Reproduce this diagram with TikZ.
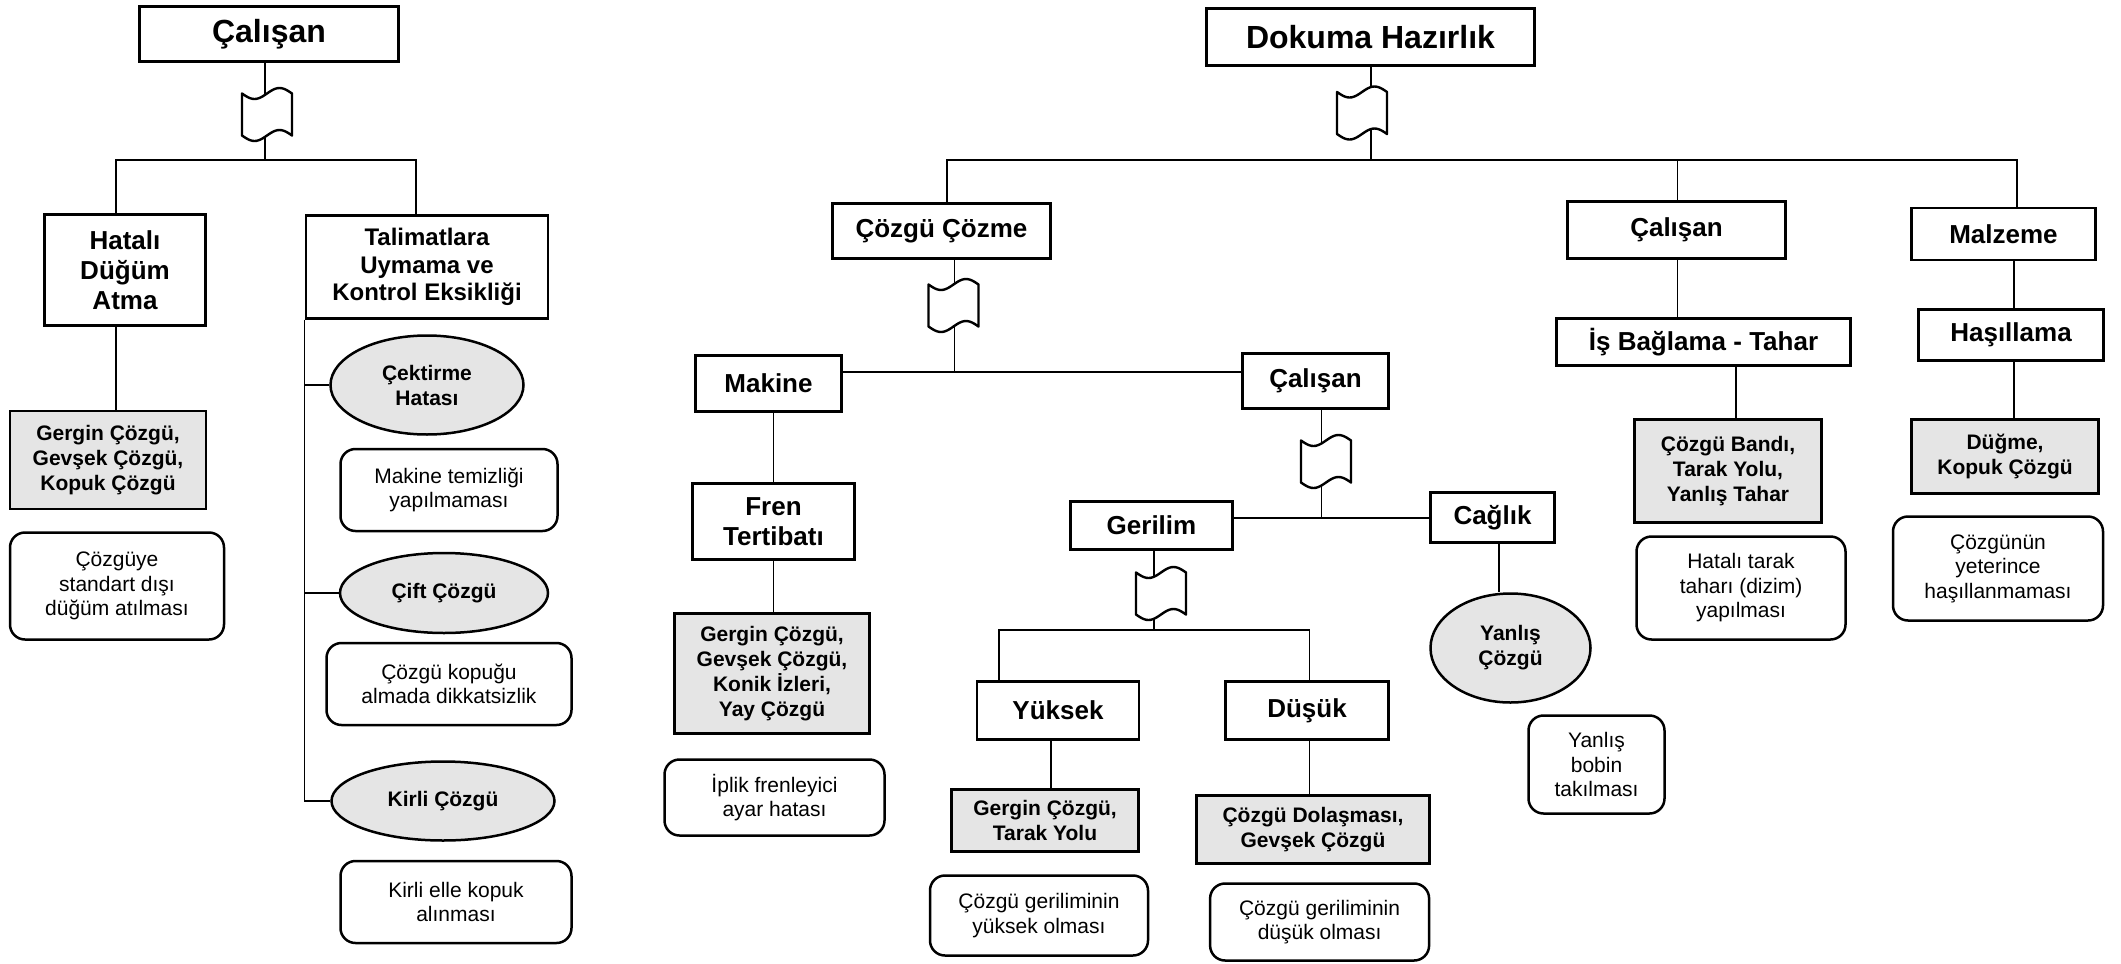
\documentclass[tikz,border=0pt]{standalone}
\usepackage{fontspec}
\setmainfont{Liberation Sans}
\usetikzlibrary{shapes.geometric}
\begin{document}
\begin{tikzpicture}[x=1pt,y=-1pt,
  every node/.style={inner sep=2pt, align=center},
  sz/.style 2 args={minimum width={#1pt-3pt}, minimum height={#2pt-3pt}},
  titlebox/.style={draw, line width=2.7pt, fill=white, font=\fontsize{32}{36}\selectfont\bfseries},
  lvlbox/.style={draw, line width=2.7pt, fill=white, font=\fontsize{26}{30}\selectfont\bfseries},
  lvlsmall/.style={lvlbox, font=\fontsize{24}{27.3}\selectfont\bfseries},
  defect/.style={draw, line width=2.7pt, fill=gray!20, font=\fontsize{21}{25}\selectfont\bfseries},
  cause/.style={draw, ellipse, line width=2.5pt, fill=gray!20, font=\fontsize{21}{25}\selectfont\bfseries},
  note/.style={draw, rounded corners=15pt, line width=2.5pt, fill=white, font=\fontsize{21}{24.5}\selectfont},
  link/.style={line width=1.4pt},
  tape/.pic={
    \draw[line width=2.4pt, fill=white, line join=round]
      plot[domain=-25:25, samples=25, smooth] (\x, {-21.5-5.5*sin(180*\x/25)})
      -- plot[domain=25:-25, samples=25, smooth] (\x, {20.5-5.5*sin(180*\x/25)})
      -- cycle;
  },
]
\useasboundingbox (0,0) rectangle (2121,964);

% ---------- left tree: Çalışan ----------
\node[titlebox, sz={262}{58}] (cL) at (269,34) {Çalışan};
\node[lvlbox, sz={164}{114}] (hat) at (125,270) {Hatalı\\Düğüm\\Atma};
\node[lvlsmall, sz={245}{106}] (tal) at (427,267) {Talimatlara\\Uymama ve\\Kontrol Eksikliği};
\node[defect, sz={199}{101}] (g1) at (108,460) {Gergin Çözgü,\\Gevşek Çözgü,\\Kopuk Çözgü};
\node[note, sz={217}{110}] (n1) at (117,586) {Çözgüye\\standart dışı\\düğüm atılması};
\node[cause, sz={196}{102}] (e1) at (427,385) {Çektirme\\Hatası};
\node[note, sz={220}{85}] (n2) at (449,490) {Makine temizliği\\yapılmaması};
\node[cause, sz={211}{83}] (e2) at (444,593) {Çift Çözgü};
\node[note, sz={248}{85}] (n3) at (449,684) {Çözgü kopuğu\\almada dikkatsizlik};
\node[cause, sz={226}{82}] (e3) at (443,801) {Kirli Çözgü};
\node[note, sz={234}{85}] (n4) at (456,902) {Kirli elle kopuk\\alınması};

\coordinate (fL) at (267,115);
\coordinate (jL) at (265,160);
\coordinate (bL1) at (116,160);
\coordinate (bL2) at (416,160);
\draw[link] (cL.south -| jL) -- (jL);
\draw[link] (hat.north -| bL1) -- (bL1) -- (bL2) -- (tal.north -| bL2);
\draw[link] (hat.south -| bL1) -- (g1.north -| bL1);
\draw[link] (tal.south west) |- (e1.west);
\draw[link] (tal.south west) |- (e2.west);
\draw[link] (tal.south west) |- (e3.west);

% ---------- middle tree: Dokuma Hazırlık ----------
\node[titlebox, sz={331}{60}] (dh) at (1370.5,37) {Dokuma Hazırlık};
\node[lvlbox, sz={221}{58}] (cc) at (941.5,231) {Çözgü Çözme};
\node[lvlbox, sz={149}{59}] (mak) at (768.5,383.5) {Makine};
\node[lvlbox, sz={149}{58}] (cm) at (1315.5,381) {Çalışan};
\node[lvlbox, sz={165}{79}] (fren) at (773.5,521.5) {Fren\\Tertibatı};
\node[defect, sz={198}{123}] (g2) at (772,673.5) {Gergin Çözgü,\\Gevşek Çözgü,\\Konik İzleri,\\Yay Çözgü};
\node[note, sz={223}{79}] (n5) at (774.5,797.5) {İplik frenleyici\\ayar hatası};
\node[lvlbox, sz={165}{51}] (ger) at (1151.5,525.5) {Gerilim};
\node[lvlbox, sz={127}{53}] (cag) at (1492.5,517.5) {Cağlık};
\node[lvlbox, sz={165}{61}] (yuk) at (1058,710.5) {Yüksek};
\node[lvlbox, sz={166}{61}] (dus) at (1307,710.5) {Düşük};
\node[defect, sz={190}{65}] (g3) at (1045,820.5) {Gergin Çözgü,\\Tarak Yolu};
\node[note, sz={221}{83}] (n6) at (1039,915.5) {Çözgü geriliminin\\yüksek olması};
\node[defect, sz={236}{71}] (g4) at (1313,829.5) {Çözgü Dolaşması,\\Gevşek Çözgü};
\node[note, sz={222}{80}] (n7) at (1319.6,922) {Çözgü geriliminin\\düşük olması};
\node[cause, sz={163}{112}] (e4) at (1510.5,648) {Yanlış\\Çözgü};
\node[note, sz={139}{101}] (n8) at (1596.5,764.5) {Yanlış\\bobin\\takılması};

% ---------- right branches ----------
\node[lvlbox, sz={221}{60}] (cR) at (1676.5,230) {Çalışan};
\node[lvlbox, sz={297}{50}] (isb) at (1703.5,342) {İş Bağlama - Tahar};
\node[defect, sz={190}{106}] (g5) at (1728,471) {Çözgü Bandı,\\Tarak Yolu,\\Yanlış Tahar};
\node[note, sz={212}{106}] (n9) at (1741,588) {Hatalı tarak\\taharı (dizim)\\yapılması};
\node[lvlbox, sz={187}{55}] (mal) at (2003.5,234) {Malzeme};
\node[lvlbox, sz={188}{54}] (has) at (2011,335) {Haşıllama};
\node[defect, sz={190}{77}] (g6) at (2005,456.5) {Düğme,\\Kopuk Çözgü};
\node[note, sz={213}{107}] (n10) at (1998,568.5) {Çözgünün\\yeterince\\haşıllanmaması};

% main bus under Dokuma Hazırlık
\coordinate (fD) at (1362,113.5);
\coordinate (jD) at (1371,160);
\coordinate (bD1) at (947,160);
\coordinate (bD2) at (1677.5,160);
\coordinate (bD3) at (2017,160);
\draw[link] (dh.south -| jD) -- (jD);
\draw[link] (cc.north -| bD1) -- (bD1) -- (bD3) -- (mal.north -| bD3);
\draw[link] (bD2) -- (cR.north -| bD2);

% Çözgü Çözme branch
\coordinate (fC) at (953.5,306);
\coordinate (jC) at (954.5,372);
\draw[link] (cc.south -| jC) -- (jC);
\draw[link] (mak.east |- jC) -- (cm.west |- jC);
\draw[link] (mak.south -| fren.north) -- (fren.north);
\draw[link] (fren.south) -- (g2.north -| fren.south);

% Çalışan (middle) branch
\coordinate (fM) at (1326,462);
\coordinate (jM) at (1321.5,518);
\draw[link] (cm.south -| jM) -- (jM);
\draw[link] (ger.east |- jM) -- (cag.west |- jM);
\coordinate (xC) at (1499,0);
\draw[link] (cag.south -| xC) -- (e4.north -| xC);

% Gerilim branch
\coordinate (fG) at (1161,594);
\coordinate (jG) at (1154,630);
\coordinate (bG1) at (999,630);
\coordinate (bG2) at (1309.5,630);
\draw[link] (ger.south -| jG) -- (jG);
\draw[link] (yuk.north -| bG1) -- (bG1) -- (bG2) -- (dus.north -| bG2);
\coordinate (xY) at (1051,0);
\draw[link] (yuk.south -| xY) -- (g3.north -| xY);
\draw[link] (dus.south -| bG2) -- (g4.north -| bG2);

% right branches
\draw[link] (cR.south -| bD2) -- (isb.north -| bD2);
\coordinate (xI) at (1736,0);
\draw[link] (isb.south -| xI) -- (g5.north -| xI);
\coordinate (xH) at (2014,0);
\draw[link] (mal.south -| xH) -- (has.north -| xH);
\draw[link] (has.south -| xH) -- (g6.north -| xH);

% punched-tape symbols on the branch lines
\pic at (fL) {tape};
\pic at (fD) {tape};
\pic at (fC) {tape};
\pic at (fM) {tape};
\pic at (fG) {tape};
\end{tikzpicture}
\end{document}
